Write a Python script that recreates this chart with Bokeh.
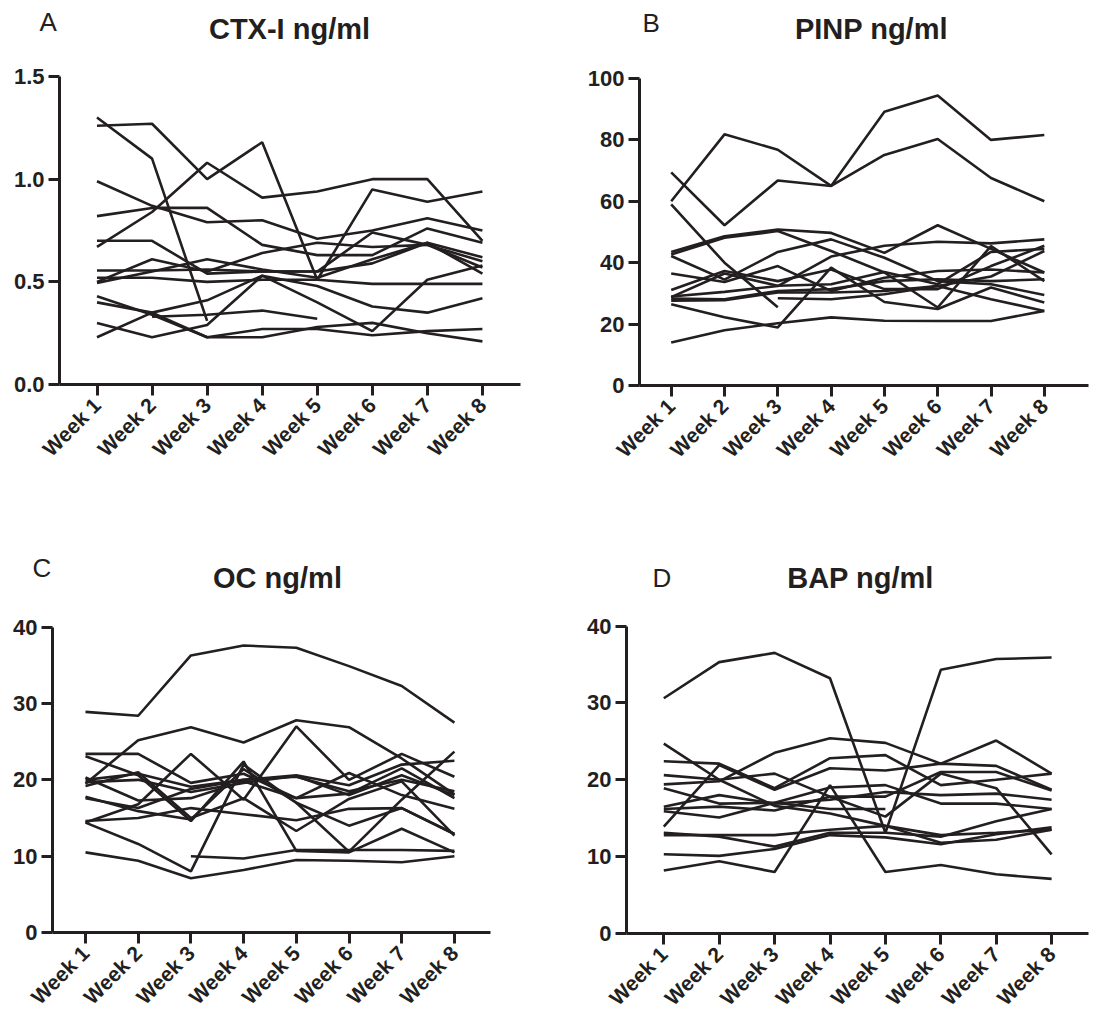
import math
from bokeh.plotting import figure
from bokeh.models import Range1d, FixedTicker, LinearAxis
from bokeh.core.properties import value
from bokeh.layouts import column, row
from bokeh.embed import file_html
from bokeh.resources import INLINE

nan = float("nan")
weeks = [1, 2, 3, 4, 5, 6, 7, 8]
week_labels = ["Week 1", "Week 2", "Week 3", "Week 4", "Week 5", "Week 6", "Week 7", "Week 8"]

# Panel A: CTX-I ng/ml
ctx_series = [
    [1.30, 1.10, 0.31, nan, nan, nan, nan, nan],
    [1.26, 1.27, 1.00, 1.18, 0.51, 0.95, 0.89, 0.94],
    [0.67, 0.84, 1.08, 0.91, 0.94, 1.00, 1.00, 0.70],
    [0.99, 0.87, 0.79, 0.80, 0.71, 0.75, 0.81, 0.75],
    [0.82, 0.86, 0.86, 0.68, 0.63, 0.63, 0.76, 0.69],
    [0.70, 0.70, 0.54, 0.55, 0.55, 0.59, 0.69, 0.62],
    [0.555, 0.555, 0.56, 0.55, 0.55, 0.74, 0.68, 0.60],
    [0.52, 0.52, 0.50, 0.51, 0.51, 0.49, 0.49, 0.49],
    [0.50, 0.61, 0.55, 0.64, 0.69, 0.67, 0.68, 0.57],
    [0.495, 0.55, 0.61, 0.56, 0.52, 0.61, 0.69, 0.54],
    [0.43, 0.34, 0.23, 0.27, 0.27, 0.24, 0.26, 0.27],
    [0.40, 0.35, 0.23, 0.23, 0.28, 0.30, 0.25, 0.21],
    [0.23, 0.35, 0.41, 0.53, 0.48, 0.38, 0.35, 0.42],
    [0.30, 0.23, 0.29, 0.53, 0.40, 0.26, 0.51, 0.58],
    [nan, 0.33, 0.34, 0.36, 0.32, nan, nan, nan],
]

# Panel B: PINP ng/ml
pinp_series = [
    [60.0, 81.8, 76.8, 65.0, 89.2, 94.5, 80.0, 81.6],
    [69.4, 52.2, 66.8, 65.0, 75.1, 80.3, 67.6, 60.0],
    [59.0, 40.0, 25.5, nan, nan, nan, nan, nan],
    [43.5, 48.6, 50.8, 49.7, 43.2, 52.2, 44.5, 36.8],
    [42.7, 48.1, 50.3, 43.8, 36.8, 25.4, 45.4, 34.0],
    [42.2, 34.5, 43.5, 47.6, 41.6, 34.0, 33.0, 29.5],
    [36.5, 33.7, 38.9, 30.8, 35.1, 37.3, 37.8, 36.8],
    [31.1, 37.3, 34.0, 37.8, 31.4, 31.4, 38.9, 45.5],
    [29.0, 30.5, 32.4, 42.0, 45.5, 46.8, 46.3, 47.6],
    [28.3, 28.1, 30.8, 31.4, 34.0, 34.6, 34.0, 34.6],
    [27.6, 27.8, 30.3, 30.3, 30.8, 32.4, 28.1, 24.3],
    [26.5, 22.2, 18.9, 38.4, 27.2, 24.9, 31.9, 27.0],
    [nan, nan, 28.4, 28.1, 29.7, 32.4, 35.5, 43.8],
    [14.0, 18.0, 20.3, 22.2, 21.1, 21.0, 21.0, 24.3],
    [28.8, 36.5, 32.5, 33.0, 37.0, 33.0, 43.5, 44.5],
]

# Panel C: OC ng/ml
oc_series = [
    [28.9, 28.4, 36.3, 37.6, 37.3, 34.9, 32.3, 27.5],
    [19.5, 25.2, 26.9, 24.9, 27.8, 26.9, 22.8, 18.1],
    [23.4, 23.4, 19.6, 20.8, 17.6, 18.2, 21.5, 17.6],
    [23.1, 20.6, 14.6, 22.4, 10.7, 10.5, 13.6, 10.5],
    [14.4, 16.8, 23.4, 17.4, 27.0, 20.0, 23.4, 20.4],
    [10.5, 9.4, 7.1, 8.2, 9.5, 9.4, 9.2, 10.0],
    [14.4, 11.6, 8.0, 22.0, 17.0, 10.6, 17.4, 23.7],
    [nan, nan, 10.0, 9.7, 10.8, 10.8, 10.8, 10.7],
    [17.6, 16.3, 18.8, 20.0, 20.6, 19.3, 22.0, 22.5],
    [20.0, 20.8, 19.1, 20.0, 20.4, 18.5, 20.0, 18.5],
    [17.8, 15.9, 14.8, 21.4, 17.0, 14.0, 16.3, 12.9],
    [19.2, 21.0, 15.0, 17.6, 13.3, 17.5, 19.8, 12.7],
    [20.3, 17.3, 17.6, 19.8, 17.6, 20.9, 18.0, 16.2],
    [19.7, 20.0, 18.4, 19.6, 20.5, 18.0, 20.6, 18.0],
    [14.6, 15.0, 16.3, 15.5, 14.7, 16.2, 16.3, 12.9],
]

# Panel D: BAP ng/ml
bap_series = [
    [30.6, 35.3, 36.5, 33.2, 13.1, 34.3, 35.7, 35.9],
    [24.7, 20.0, 16.6, 15.6, 14.0, 12.8, 13.1, 13.5],
    [22.4, 22.1, 18.9, 22.8, 23.2, 19.3, 20.0, 20.8],
    [20.6, 20.0, 20.8, 17.8, 15.2, 20.8, 18.9, 10.3],
    [18.9, 16.9, 17.0, 16.2, 16.2, nan, nan, nan],
    [13.9, 21.9, 18.7, 21.5, 21.2, 22.1, 21.8, 18.7],
    [8.2, 9.4, 8.0, 19.3, 8.0, 8.9, 7.7, 7.1],
    [10.3, 10.1, 11.0, 12.8, 12.5, 11.6, 12.9, 13.8],
    [13.1, 12.6, 11.3, 13.1, 13.1, 12.6, 14.6, 16.2],
    [12.8, 12.8, 12.8, 13.5, 14.0, 11.8, 12.2, 13.5],
    [16.5, 18.0, 16.9, 17.4, 18.4, 18.0, 18.2, 17.4],
    [15.9, 15.1, 17.0, 19.0, 19.3, 16.9, 16.9, 16.2],
    [19.4, 19.8, 23.5, 25.4, 24.8, 22.1, 25.1, 20.8],
    [16.2, 16.5, 16.0, 17.8, 17.8, 21.0, 21.0, 18.6],
]

ctx_ticks = [0, 0.5, 1.0, 1.5]
ctx_tick_labels = ["0.0", "0.5", "1.0", "1.5"]
pinp_ticks = [0, 20, 40, 60, 80, 100]
oc_ticks = [0, 10, 20, 30, 40]
bap_ticks = [0, 10, 20, 30, 40]

INK = "#231f20"
FONT = "Liberation Sans"


def make_panel(series, ymax, yticks, ylabels, size, geom, letter, title,
               letter_px, title_px):
    """geom: (y-axis px, week-1 px, week spacing px, x-axis px from top,
    top-of-y-axis px from top, right end of x-axis px), relative to the figure."""
    W, H = size
    ax_px, w1_px, sp, xax_py, top_py, right_px = geom
    xs = 1 - w1_px / sp
    sy = (xax_py - top_py) / ymax
    ys = -(H - xax_py) / sy

    def to_data(px, py):
        return xs + px / sp, ys + (H - py) / sy

    p = figure(width=W, height=H, x_range=Range1d(xs, xs + W / sp),
               y_range=Range1d(ys, ys + H / sy),
               x_axis_type=None, y_axis_type=None,
               output_backend="svg", toolbar_location=None,
               min_border=0, min_border_left=0, min_border_right=0,
               min_border_top=0, min_border_bottom=0)
    p.grid.visible = False
    p.outline_line_color = None
    p.background_fill_color = "white"
    p.border_fill_color = "white"

    for s in series:
        p.line(weeks, s, line_color=INK, line_width=2.6)

    x_axis_start = to_data(ax_px, 0)[0]
    x_axis_end = to_data(right_px, 0)[0]

    xaxis = LinearAxis(fixed_location=0, bounds=(x_axis_start, x_axis_end),
                       ticker=FixedTicker(ticks=weeks))
    yaxis = LinearAxis(fixed_location=x_axis_start, bounds=(0, ymax),
                       ticker=FixedTicker(ticks=yticks))
    for ax in (xaxis, yaxis):
        ax.axis_line_width = 3
        ax.axis_line_color = INK
        ax.major_tick_line_width = 3
        ax.major_tick_line_color = INK
        ax.major_tick_in = 0
        ax.major_tick_out = 11
        ax.minor_tick_line_color = None
        ax.major_label_text_font = FONT
        ax.major_label_text_font_style = "bold"
        ax.major_label_text_color = INK

    xaxis.major_label_overrides = {wk: lab for wk, lab in zip(weeks, week_labels)}
    xaxis.major_label_orientation = math.pi / 4
    xaxis.major_label_text_font_size = "21px"
    xaxis.major_label_standoff = 6

    yaxis.major_label_overrides = {t: l for t, l in zip(yticks, ylabels)}
    yaxis.major_label_text_font_size = "22px"
    yaxis.major_label_standoff = 4

    p.add_layout(xaxis, "below")
    p.add_layout(yaxis, "left")

    lx, ly = to_data(*letter_px)
    tx, ty = to_data(*title_px)
    p.text(x=[lx], y=[ly], text=[letter], text_font=value(FONT), text_font_size="26px",
           text_color=INK, text_align="left", text_baseline="middle")
    p.text(x=[tx], y=[ty], text=[title], text_font=value(FONT), text_font_size="29px",
           text_font_style="bold", text_color=INK, text_align="center",
           text_baseline="middle")
    return p


pA = make_panel(ctx_series, 1.5, ctx_ticks, ctx_tick_labels, (547, 511),
                (59, 96.5, 55.06, 384, 76, 520), "A", "CTX-I ng/ml", (39, 21), (289, 28))
pB = make_panel(pinp_series, 100, pinp_ticks, [str(t) for t in pinp_ticks], (547, 511),
                (92, 123.7, 53.3, 385, 78, 541), "B", "PINP ng/ml", (95, 22), (324, 28))
pC = make_panel(oc_series, 40, oc_ticks, [str(t) for t in oc_ticks], (547, 509),
                (52, 85, 52.7, 421, 115.7, 490), "C", "OC ng/ml", (32, 56), (277, 66))
pD = make_panel(bap_series, 40, bap_ticks, [str(t) for t in bap_ticks], (547, 509),
                (79, 116.3, 55.4, 422, 114.5, 541), "D", "BAP ng/ml", (105, 66), (313, 66))

layout = column(row(pA, pB), row(pC, pD))
open("out.html", "w").write(file_html(layout, INLINE))
